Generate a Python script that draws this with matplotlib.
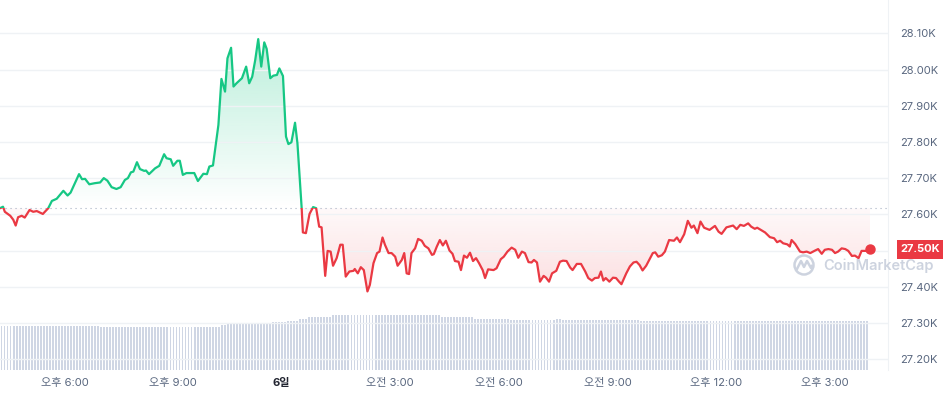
"""
24h price chart (CoinMarketCap style): price line split at the opening price,
gradient fills, rolling volume bars at the bottom.
"""
import numpy as np
import matplotlib.pyplot as plt
from matplotlib.patches import Rectangle, Circle, PathPatch
from matplotlib.path import Path
from matplotlib.colors import to_rgb
import matplotlib.transforms as mtransforms

plt.rcParams['font.family'] = ['Inter', 'Noto Sans CJK KR', 'DejaVu Sans']

###################################################
# Data
###################################################
start_hour = 16.22  # 오후 4:13 on day 5

minutes = [
    0, 5, 8, 17, 22, 26, 30, 36, 41, 49, 55, 61, 71, 80, 86, 94, 105, 112, 117, 131,
    136, 141, 148, 157, 166, 172, 178, 185, 193, 200, 207, 212, 217, 221, 227, 232, 239, 242, 247, 257,
    264, 272, 276, 283, 287, 294, 298, 303, 309, 322, 328,
    337, 343, 347, 353, 356, 362, 367, 373, 377, 383, 387, 392, 401, 408, 413, 418, 423, 428, 433, 438,
    442, 448, 453, 459, 463, 469, 474, 478, 483, 489, 493, 500,
    502, 507, 513, 519, 524, 529, 533, 539, 543, 548, 552, 558, 564, 568, 573, 579, 586, 588, 593, 598,
    603, 609, 613, 619, 625, 629, 634, 638, 644, 649, 655, 659, 666, 670, 674, 678, 682, 688, 693, 699,
    704, 710, 716, 719, 724, 729, 734, 739, 745, 750, 754, 760, 764, 769, 774, 779, 784, 789, 794,
    800, 804, 809, 818, 823, 830, 835, 841, 848, 854, 859, 865, 870, 876, 881, 885, 890, 895, 901, 905,
    910, 915, 922, 928, 933, 939, 945, 949, 956, 963, 970, 975, 981, 986, 992, 996, 1000, 1004, 1010, 1016,
    1021, 1026, 1030, 1038, 1044, 1050, 1055, 1060, 1065, 1071, 1076, 1082, 1086, 1091, 1097, 1102, 1109,
    1117, 1122, 1127, 1134, 1140, 1146, 1150, 1156, 1161, 1167, 1176, 1185, 1191, 1196, 1204, 1215, 1221, 1227, 1233, 1240,
    1245, 1251, 1255, 1261, 1268, 1276, 1283, 1288, 1293, 1298, 1305, 1309, 1312, 1318, 1326, 1331, 1337, 1343, 1351, 1356,
    1362, 1367, 1373, 1379, 1384, 1389, 1395, 1401, 1406, 1412, 1417, 1423, 1428, 1435, 1442,
]

prices = [
    27617, 27621, 27607, 27596, 27585, 27569, 27592, 27596, 27591, 27612, 27607, 27609, 27601, 27617, 27637, 27643, 27665, 27652, 27660, 27711,
    27697, 27698, 27683, 27686, 27688, 27700, 27693, 27675, 27670, 27675, 27695, 27700, 27716, 27718, 27744, 27725, 27720, 27721, 27711, 27727,
    27734, 27766, 27755, 27752, 27734, 27748, 27748, 27709, 27714, 27714, 27692,
    27712, 27711, 27732, 27735, 27773, 27847, 27974, 27939, 28031, 28060, 27953, 27962, 27976, 28008, 27962, 27980, 28026, 28084, 28008, 28075,
    28057, 27976, 27983, 27985, 28003, 27982, 27815, 27794, 27799, 27853, 27796, 27617,
    27550, 27548, 27601, 27620, 27617, 27566, 27564, 27430, 27499, 27497, 27458, 27479, 27516, 27516, 27428, 27442, 27444, 27449, 27437, 27454,
    27446, 27387, 27405, 27465, 27493, 27497, 27536, 27516, 27493, 27493, 27483, 27458, 27474, 27493, 27437, 27435, 27493, 27506, 27532, 27527,
    27513, 27506, 27488, 27490, 27511, 27529, 27514, 27527, 27500, 27491, 27471, 27469, 27446, 27486, 27480, 27494, 27471, 27479, 27465,
    27446, 27424, 27448, 27446, 27451, 27476, 27483, 27497, 27508, 27502, 27480, 27497, 27493, 27468, 27467, 27474, 27467, 27414, 27430, 27425,
    27414, 27437, 27444, 27469, 27472, 27471, 27453, 27446, 27463, 27463, 27442, 27424, 27417, 27424, 27425, 27442, 27417, 27424, 27414, 27425,
    27424, 27414, 27407, 27437, 27456, 27467, 27469, 27460, 27445, 27458, 27474, 27493, 27495, 27483, 27487, 27497, 27529,
    27527, 27536, 27523, 27545, 27582, 27563, 27569, 27548, 27580, 27563, 27557, 27568, 27552, 27546, 27564, 27569, 27559, 27571, 27568, 27575,
    27566, 27560, 27563, 27557, 27550, 27537, 27534, 27523, 27527, 27520, 27517, 27511, 27529, 27518, 27497, 27495, 27497, 27493, 27500, 27504,
    27491, 27502, 27504, 27502, 27493, 27497, 27506, 27504, 27499, 27485, 27486, 27479, 27499, 27499, 27503,
]

# rolling 24h volume (billions), run-length: level, number of 5-minute bars
vol_levels = [13.4, 13.1, 13.6, 14.0, 14.3, 14.6, 14.9, 15.5, 16.0, 16.5, 16.8, 16.5, 16.0, 15.5, 15.2, 15.5, 15.2, 14.8]
vol_counts = [33, 40, 2, 10, 5, 5, 4, 3, 8, 13, 19, 4, 11, 12, 15, 2, 26, 76]

tick_hours = [18, 21, 24, 27, 30, 33, 36, 39]
tick_labels = ['오후 6:00', '오후 9:00', '6일', '오전 3:00', '오전 6:00', '오전 9:00', '오후 12:00', '오후 3:00']
price_ticks = [27200, 27300, 27400, 27500, 27600, 27700, 27800, 27900, 28000, 28100]

GREEN = '#16c784'
RED = '#ea3943'
GRAY = '#58667e'

###################################################
# Plot
###################################################
t = start_hour + np.array(minutes) / 60.0
p = np.array(prices, dtype=float)
base = p[0]
last = p[-1]

x_lo, x_hi = start_hour, start_hour + 24.53
y_lo, y_hi = 27170, 28192

fig = plt.figure(figsize=(9.44, 3.96), dpi=100)
rect = [0, 26 / 396, 888 / 944, 1 - 26 / 396]

# volume axes underneath
ax_vol = fig.add_axes(rect)
vol = np.repeat(vol_levels, vol_counts)
bar_t = start_hour + (np.arange(len(vol)) * 5 + 2.5) / 60.0
ax_vol.bar(bar_t, vol, width=5 / 60 * 0.62, color='#cfd6e4', linewidth=0)
ax_vol.set_xlim(x_lo, x_hi)
ax_vol.set_ylim(0, 112)
ax_vol.axis('off')

# price axes on top
ax = fig.add_axes(rect)
ax.patch.set_visible(False)


def gradient_fill(mask, color, g_lo, g_hi, a_lo, a_hi):
    poly = ax.fill_between(t, p, base, where=mask, interpolate=True,
                           facecolor='none', edgecolor='none')
    clip = PathPatch(Path.make_compound_path(*poly.get_paths()),
                     transform=ax.transData, facecolor='none', edgecolor='none')
    img = np.zeros((256, 1, 4))
    img[:, :, :3] = to_rgb(color)
    img[:, 0, 3] = np.linspace(a_lo, a_hi, 256)
    im = ax.imshow(img, extent=[t[0], t[-1], g_lo, g_hi], origin='lower',
                   aspect='auto', zorder=1, interpolation='bilinear')
    im.set_clip_path(clip)


gradient_fill(p >= base, GREEN, base, 28100, 0.0, 0.3)
gradient_fill(p <= base, RED, base, 27380, 0.03, 0.17)

# line, green above the opening price and red below
lg, = ax.plot(t, p, color=GREEN, lw=1.6, zorder=3, solid_joinstyle='round')
lg.set_clip_path(Rectangle((x_lo - 1, base), 30, 2000, transform=ax.transData))
lr, = ax.plot(t, p, color=RED, lw=1.6, zorder=3, solid_joinstyle='round')
lr.set_clip_path(Rectangle((x_lo - 1, base - 2000), 30, 2000, transform=ax.transData))
ax.plot(t[-1], last, 'o', color=RED, ms=6.5, zorder=4)

ax.axhline(base, color='#a6b0c3', lw=0.8, ls=(0, (1, 3.5)), zorder=2)

ax.set_xlim(x_lo, x_hi)
ax.set_ylim(y_lo, y_hi)

# the 27.50K tick is shown by the current price tag instead
ax.yaxis.tick_right()
ax.set_yticks(price_ticks)
ax.set_yticklabels(['' if v == 27500 else f'{v / 1000:.2f}K' for v in price_ticks])
ax.tick_params(axis='y', length=0, pad=9, labelsize=8, labelcolor=GRAY)
ax.set_xticks(tick_hours)
ax.set_xticklabels(tick_labels)
ax.tick_params(axis='x', length=0, pad=6, labelsize=8, labelcolor=GRAY)
lbl = ax.get_xticklabels()[2]
lbl.set_fontweight('bold')
lbl.set_color('#222531')

ax.grid(axis='y', color='#eff2f5', lw=1, zorder=0)
for side in ['top', 'left', 'bottom']:
    ax.spines[side].set_visible(False)
ax.spines['right'].set_color('#eff2f5')

# current price tag
blend = mtransforms.blended_transform_factory(ax.transAxes, ax.transData)
ax.add_patch(Rectangle((897 / 888, last - 26), 46 / 888, 52, transform=blend,
                       facecolor=RED, edgecolor='none', clip_on=False, zorder=5))
ax.text(920 / 888, last, f'{last / 1000:.2f}K', transform=blend, ha='center', va='center',
        color='white', fontsize=8, fontweight='bold', clip_on=False, zorder=6)

# watermark
wm = '#cdd3df'
fig.text(823 / 944, 1 - 266 / 396, 'CoinMarketCap', color=wm, fontsize=10.5,
         fontweight='semibold', ha='left', va='center', family='Inter')
fig.add_artist(Circle((8.04, 1.31), 0.095, transform=fig.dpi_scale_trans,
                      fill=False, edgecolor=wm, lw=1.8))
fig.add_artist(plt.Line2D([7.97, 8.01, 8.04, 8.07, 8.11, 8.12], [1.27, 1.35, 1.29, 1.35, 1.28, 1.30],
                          transform=fig.dpi_scale_trans, color=wm, lw=1.8))

fig.savefig('out.png', dpi=100)
